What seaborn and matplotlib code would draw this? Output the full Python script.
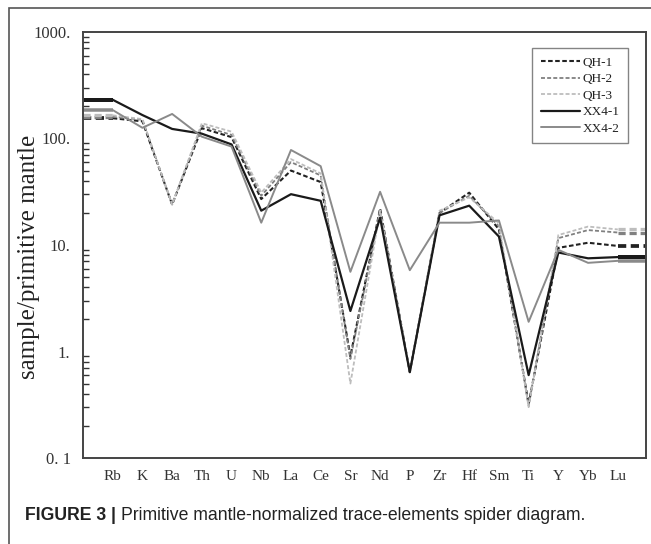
import numpy as np
import pandas as pd
import matplotlib
matplotlib.use("Agg")
import matplotlib.pyplot as plt
import seaborn as sns
from matplotlib.patches import Rectangle

elements = ['Rb', 'K', 'Ba', 'Th', 'U', 'Nb', 'La', 'Ce', 'Sr', 'Nd', 'P',
            'Zr', 'Hf', 'Sm', 'Ti', 'Y', 'Yb', 'Lu']
qh1 = [155, 145, 24, 125, 103, 27, 50, 39, 0.9, 22, 0.64, 20, 31, 14, 0.32, 9.4, 10.5, 9.8]
qh2 = [160, 150, 24, 132, 108, 29, 60, 45, 0.85, 21, 0.64, 20, 29, 15, 0.31, 11.6, 13.8, 13.1]
qh3 = [165, 152, 24, 139, 116, 31, 64, 47, 0.5, 21, 0.64, 21, 28, 16, 0.30, 12.4, 14.9, 14.0]
xx41 = [231, 166, 123, 111, 88, 21, 30, 26, 2.4, 18, 0.64, 19, 23.4, 12, 0.6, 8.5, 7.5, 7.7]
xx42 = [185, 126, 170, 104, 84, 16.2, 78, 55, 5.6, 31.6, 5.8, 16.2, 16.2, 17, 1.9, 9.0, 6.8, 7.1]

series_names = ['QH-1', 'QH-2', 'QH-3', 'XX4-1', 'XX4-2']
series_vals = [qh1, qh2, qh3, xx41, xx42]
ytick_vals = [0.1, 1, 10, 100, 1000]
ytick_labels = ['0. 1', '1.', '10.', '100.', '1000.']

styles = {
    'QH-1': dict(color='#222222', ls=(0, (2.2, 1.2)), lw=1.5),
    'QH-2': dict(color='#808080', ls=(0, (2.2, 1.2)), lw=1.3),
    'QH-3': dict(color='#bdbdbd', ls=(0, (2.2, 1.2)), lw=1.3),
    'XX4-1': dict(color='#1a1a1a', ls='-', lw=1.6),
    'XX4-2': dict(color='#8a8a8a', ls='-', lw=1.4),
}

sns.set_theme(style='white')
plt.rcParams['font.family'] = ['Liberation Serif', 'DejaVu Serif']

fig = plt.figure(figsize=(6.51, 5.44), dpi=100)
ax = fig.add_axes([83/651, 1-458/544, (646-83)/651, (458-32)/544])

n = len(elements)
pos = np.arange(1, n + 1)
for name, vals in zip(series_names, series_vals):
    st = styles[name]
    df = pd.DataFrame({'x': pos, 'y': vals})
    sns.lineplot(data=df, x='x', y='y', ax=ax, color=st['color'],
                 linestyle=st['ls'], lw=st['lw'], label=name, sort=False)
    # flat extensions to the axis edges
    ax.plot([0, 1], [vals[0], vals[0]], color=st['color'], ls=st['ls'],
            lw=st['lw'] * 1.8, solid_capstyle='butt')
    ax.plot([n, n + 1], [vals[-1], vals[-1]], color=st['color'], ls=st['ls'],
            lw=st['lw'] * 1.8, solid_capstyle='butt')

ax.set_yscale('log')
ax.set_ylim(0.1, 1000)
ax.set_xlim(0, n + 0.95)
ax.set_xticks(pos)
ax.set_xticklabels(elements, fontsize=11)
ax.set_yticks(ytick_vals)
ax.set_yticklabels(ytick_labels, fontsize=12)
ax.tick_params(axis='both', which='both', direction='in', colors='#333333',
               labelcolor='#333333')
ax.tick_params(axis='x', length=4, width=1.2, pad=9)
ax.tick_params(axis='y', which='major', length=6, width=1.2, pad=9)
ax.tick_params(axis='y', which='minor', length=4, width=1.0, left=True)
ax.yaxis.set_minor_locator(matplotlib.ticker.LogLocator(base=10, subs=np.arange(2, 10)))
ax.yaxis.set_minor_formatter(matplotlib.ticker.NullFormatter())
for sp in ax.spines.values():
    sp.set_color('#444444')
    sp.set_linewidth(1.4)
ax.set_xlabel('')
ax.set_ylabel('sample/primitive mantle', fontsize=18, color='#222222')
ax.yaxis.set_label_coords(-0.076, 0.472)

leg = ax.legend(loc='upper right', bbox_to_anchor=((628-83)/563, (458-48)/426),
                borderaxespad=0, fontsize=9.5, handlelength=3.0,
                handletextpad=0.15, labelspacing=0.32, frameon=True,
                fancybox=False, edgecolor='#666666', borderpad=0.65)
leg.get_frame().set_linewidth(1.0)
for t in leg.get_texts():
    t.set_color('#222222')

# outer frame
fig.patches.append(Rectangle((9/651, -0.1), 1.2, 1 - 8/544 + 0.1,
                             transform=fig.transFigure, fill=False,
                             edgecolor='#555555', lw=1.2))

t1 = fig.text(25/651, 1-515/544, 'FIGURE 3 |', fontsize=12.7, fontweight='bold',
              family=['Liberation Sans', 'DejaVu Sans'], va='center', ha='left',
              color='#222222')
fig.canvas.draw()
bb = t1.get_window_extent(renderer=fig.canvas.get_renderer())
fig.text((bb.x1 + 5)/651, 1-515/544,
         'Primitive mantle-normalized trace-elements spider diagram.',
         fontsize=12.7, family=['Liberation Sans', 'DejaVu Sans'], va='center',
         ha='left', color='#222222')

fig.savefig('out.png', dpi=100)
